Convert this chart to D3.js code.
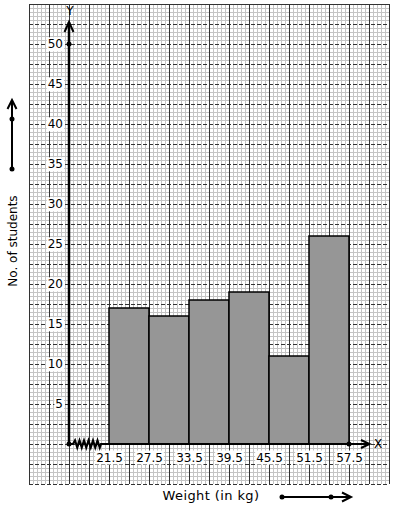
<!DOCTYPE html>
<html>
<head>
<meta charset="utf-8">
<script src="https://cdn.jsdelivr.net/npm/d3@7"></script>
<style>
  body { margin: 0; background: #fff; }
  text { font-family: "DejaVu Sans", sans-serif; fill: #000; }
</style>
</head>
<body>
<script>
// class boundaries (kg) and number of students in each class
var classEdges = [21.5, 27.5, 33.5, 39.5, 45.5, 51.5, 57.5];
var students = [17, 16, 18, 19, 11, 26];
var yTicks = [5, 10, 15, 20, 25, 30, 35, 40, 45, 50];
var xTitle = "Weight (in kg)";
var yTitle = "No. of students";

var W = 394, H = 510;
var gridL = 29, gridR = 389, gridT = 4, gridB = 484;

// x has a false origin (kink) at 15.5 kg, 6 kg per big square pair
var x = d3.scaleLinear().domain([9.5, 63.5]).range([gridL, gridR]);
var y = d3.scaleLinear().domain([-5, 55]).range([gridB, gridT]);
var x0 = x(15.5), y0 = y(0);

var svg = d3.select("body").append("svg")
    .attr("width", W)
    .attr("height", H);

// graph paper
var grid = svg.append("g").attr("shape-rendering", "crispEdges");
d3.range(gridL, gridR + 0.1, 4).forEach(function (px) {
  if ((px - gridL) % 20 === 0) return;
  grid.append("line").attr("x1", px + 0.5).attr("x2", px + 0.5)
      .attr("y1", gridT).attr("y2", gridB)
      .attr("stroke", "#c4c4c4");
});
d3.range(gridT, gridB + 0.1, 4).forEach(function (py) {
  if ((py - gridT) % 20 === 0) return;
  grid.append("line").attr("y1", py + 0.5).attr("y2", py + 0.5)
      .attr("x1", gridL).attr("x2", gridR)
      .attr("stroke", "#c4c4c4");
});
d3.range(gridT, gridB + 0.1, 20).forEach(function (py) {
  grid.append("line").attr("y1", py + 0.5).attr("y2", py + 0.5)
      .attr("x1", gridL).attr("x2", gridR)
      .attr("stroke", "#333")
      .attr("stroke-dasharray", py === gridT ? null : "4,2");
});
d3.range(gridL, gridR + 0.1, 20).forEach(function (px) {
  grid.append("line").attr("x1", px + 0.5).attr("x2", px + 0.5)
      .attr("y1", gridT).attr("y2", gridB)
      .attr("stroke", "#333");
});

// bars
svg.append("g").selectAll("rect")
  .data(students)
  .join("rect")
    .attr("x", function (d, i) { return x(classEdges[i]); })
    .attr("y", function (d) { return y(d); })
    .attr("width", function (d, i) { return x(classEdges[i + 1]) - x(classEdges[i]); })
    .attr("height", function (d) { return y0 - y(d); })
    .attr("fill", "#969696")
    .attr("stroke", "#000")
    .attr("stroke-width", 1.5);

// axes (labels only, lines drawn by hand below)
var yAxis = svg.append("g")
    .attr("transform", "translate(" + x0 + ",0)")
    .call(d3.axisLeft(y).tickValues(yTicks).tickSize(0).tickPadding(6));
var xAxis = svg.append("g")
    .attr("transform", "translate(0," + y0 + ")")
    .call(d3.axisBottom(x).tickValues(classEdges).tickSize(0).tickPadding(9)
      .tickFormat(d3.format(".1f")));

[yAxis, xAxis].forEach(function (ax) {
  ax.select(".domain").remove();
  ax.selectAll("text")
    .style("font-family", "DejaVu Sans")
    .style("font-size", "12px")
    .attr("fill", "#000");
  ax.selectAll(".tick").each(function () {
    var t = d3.select(this).select("text");
    var b = t.node().getBBox();
    d3.select(this).insert("rect", "text")
      .attr("x", b.x - 1).attr("y", b.y)
      .attr("width", b.width + 2).attr("height", b.height)
      .attr("fill", "#fff");
  });
});

// axis lines
var ax = svg.append("g").attr("stroke", "#000").attr("fill", "none");
ax.append("line").attr("x1", x0).attr("x2", x0)
    .attr("y1", y0).attr("y2", 22).attr("stroke-width", 2.5);
ax.append("path").attr("d", "M" + (x0 - 4.5) + ",32L" + x0 + ",22L" + (x0 + 4.5) + ",32")
    .attr("stroke-width", 2);

// x axis: origin, kink, then on to arrow
var kink = [[x0, y0], [x0 + 4, y0]];
for (var k = 0; k < 6; k++) {
  kink.push([x0 + 6 + k * 4.5, y0 - 3.5]);
  kink.push([x0 + 8.25 + k * 4.5, y0 + 3.5]);
}
kink.push([x0 + 32, y0]);
kink.push([369, y0]);
ax.append("path").attr("d", d3.line()(kink)).attr("stroke-width", 2.2);
ax.append("path").attr("d", "M361,440L369.5," + y0 + "L361,448")
    .attr("stroke-width", 2);

var dots = svg.append("g").attr("fill", "#000");
[[x0, y0], [x(57.5), y0], [x0, y(50)]].forEach(function (p) {
  dots.append("circle").attr("cx", p[0]).attr("cy", p[1]).attr("r", 2.5);
});

svg.append("text").attr("x", 70).attr("y", 15)
    .attr("text-anchor", "middle").style("font-size", "12px").text("Y");
svg.append("text").attr("x", 378).attr("y", 448)
    .attr("text-anchor", "middle").style("font-size", "12px").text("X");

// titles with their little arrows
svg.append("text")
    .attr("transform", "translate(17,241) rotate(-90)")
    .attr("text-anchor", "middle")
    .style("font-size", "12px")
    .text(yTitle);
var la = svg.append("g").attr("stroke", "#000").attr("fill", "none").attr("stroke-width", 2);
la.append("line").attr("x1", 12).attr("x2", 12).attr("y1", 169).attr("y2", 100);
la.append("path").attr("d", "M7.5,109L12,100L16.5,109");
dots.append("circle").attr("cx", 12).attr("cy", 119).attr("r", 2.5);
dots.append("circle").attr("cx", 12).attr("cy", 169).attr("r", 2.5);

svg.append("text").attr("x", 211).attr("y", 500)
    .attr("text-anchor", "middle")
    .style("font-size", "13px")
    .style("letter-spacing", "0.4px")
    .text(xTitle);
la.append("line").attr("x1", 282).attr("x2", 350).attr("y1", 497).attr("y2", 497);
la.append("path").attr("d", "M342,492.5L351,497L342,501.5");
dots.append("circle").attr("cx", 282).attr("cy", 497).attr("r", 2.5);
dots.append("circle").attr("cx", 331).attr("cy", 497).attr("r", 2.5);
</script>
</body>
</html>
